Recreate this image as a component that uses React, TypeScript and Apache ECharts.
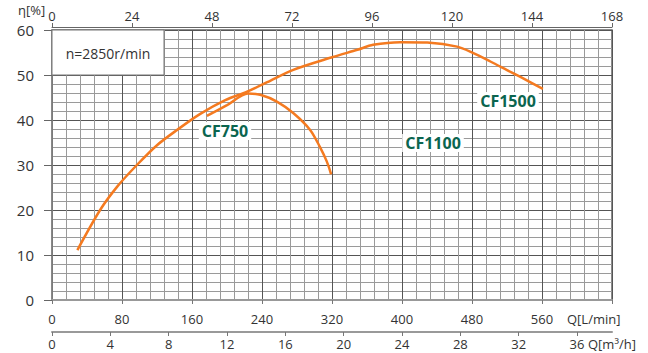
import React, { useEffect, useRef } from "react";
import * as echarts from "echarts";

// Flow (L/min) and efficiency (%)
const q1500 = [29, 55, 75, 97, 120, 143, 169, 198, 223, 246, 275, 321, 349, 367, 398, 429, 463, 481, 501, 520, 538, 561];
const eff1500 = [11.1, 20, 25.3, 30, 34.4, 37.8, 41.3, 44.4, 46.3, 48.4, 51.1, 54, 55.6, 56.7, 57.3, 57.2, 56.3, 54.9, 53, 51.1, 49.3, 46.9];
const q750 = [177, 200, 224, 238, 257, 276, 295, 306, 314, 319];
const eff750 = [40.9, 43.3, 45.9, 45.6, 44.1, 41.5, 37.8, 34.1, 30.8, 27.9];

const lminTicks = [0, 640, 80];
const m3hTicks = [0, 38.4, 4];
const gpmTicks = [0, 168, 24];
const etaTicks = [0, 60, 10];

const FONT = "Open Sans";

export default function App() {
  const ref = useRef<HTMLDivElement>(null);
  useEffect(() => {
    document.body.style.margin = "0";
    const chart = echarts.init(ref.current!, null, { renderer: "svg" });
    const labelStyle = { color: "#333", fontFamily: FONT, fontSize: 13 };
    chart.setOption({
      animation: false,
      backgroundColor: "#fff",
      grid: {
        left: 52, right: 36, top: 30, bottom: 53,
        show: true, borderColor: "#666", borderWidth: 1.5, containLabel: false,
      },
      xAxis: [
        {
          type: "value", position: "bottom", offset: 7,
          min: lminTicks[0], max: lminTicks[1], interval: lminTicks[2],
          axisLine: { show: true, lineStyle: { color: "#999", width: 2 } },
          axisTick: { show: true, length: 4, lineStyle: { color: "#777" } },
          axisLabel: { ...labelStyle, margin: 5, formatter: (v: number) => (v > 560 ? "" : String(v)) },
          splitLine: { show: true, lineStyle: { color: "#555", width: 1 } },
          minorTick: { show: false, splitNumber: 5 },
          minorSplitLine: { show: true, lineStyle: { color: "#9a9a9a", width: 1 } },
        },
        {
          type: "value", position: "bottom", offset: 32,
          min: m3hTicks[0], max: m3hTicks[1], interval: m3hTicks[2],
          axisLine: { show: true, lineStyle: { color: "#999", width: 2 } },
          axisTick: { show: true, length: 4, lineStyle: { color: "#777" } },
          axisLabel: { ...labelStyle, margin: 5, showMaxLabel: false, formatter: (v: number) => (v > 36 ? "" : String(v)) },
          splitLine: { show: false },
        },
        {
          type: "value", position: "top", offset: 3,
          min: gpmTicks[0], max: gpmTicks[1], interval: gpmTicks[2],
          axisLine: { show: true, lineStyle: { color: "#666", width: 1 } },
          axisTick: { show: true, length: 4, lineStyle: { color: "#666" } },
          axisLabel: { ...labelStyle, margin: 5 },
          splitLine: { show: false },
        },
      ],
      yAxis: [
        {
          type: "value", position: "left", offset: 4,
          min: etaTicks[0], max: etaTicks[1], interval: etaTicks[2],
          axisLine: { show: true, lineStyle: { color: "#888", width: 1.5 } },
          axisTick: { show: true, length: 8, lineStyle: { color: "#666" } },
          axisLabel: { color: "#333", fontFamily: FONT, fontSize: 15, margin: 14 },
          splitLine: { show: true, lineStyle: { color: "#555", width: 1 } },
          minorTick: { show: false, splitNumber: 5 },
          minorSplitLine: { show: true, lineStyle: { color: "#9a9a9a", width: 1 } },
        },
      ],
      series: [
        {
          name: "CF1500", type: "line", xAxisIndex: 0, yAxisIndex: 0,
          data: q1500.map((q, i) => [q, eff1500[i]]),
          smooth: 0.3, symbol: "none",
          lineStyle: { color: "#f47a20", width: 2.5 }, z: 5,
        },
        {
          name: "CF750", type: "line", xAxisIndex: 0, yAxisIndex: 0,
          data: q750.map((q, i) => [q, eff750[i]]),
          smooth: 0.3, symbol: "none",
          lineStyle: { color: "#f47a20", width: 2.5 }, z: 5,
        },
      ],
      graphic: [
        {
          type: "rect", z: 50,
          shape: { x: 52, y: 30, width: 112, height: 45 },
          style: { fill: "#fff", stroke: "#777", lineWidth: 1 },
        },
        {
          type: "text", z: 51, x: 108, y: 53,
          style: { text: "n=2850r/min", fill: "#333", font: `14px "${FONT}"`, textAlign: "center", textVerticalAlign: "middle" },
        },
        {
          type: "text", z: 51, x: 18, y: 10,
          style: { text: "η[%]", fill: "#333", font: `13px "${FONT}"`, textAlign: "left", textVerticalAlign: "middle" },
        },
        {
          type: "text", z: 51, x: 567, y: 319,
          style: { text: "Q[L/min]", fill: "#333", font: `13px "${FONT}"`, textAlign: "left", textVerticalAlign: "middle" },
        },
        {
          type: "text", z: 51, x: 588, y: 344,
          style: { text: "Q[m³/h]", fill: "#333", font: `13px "${FONT}"`, textAlign: "left", textVerticalAlign: "middle" },
        },
        {
          type: "text", z: 51, x: 225, y: 131,
          style: { text: "CF750", fill: "#0b654f", font: `bold 16px "${FONT}"`, textAlign: "center", textVerticalAlign: "middle", backgroundColor: "#fff", padding: [1, 3] },
        },
        {
          type: "text", z: 51, x: 433, y: 143,
          style: { text: "CF1100", fill: "#0b654f", font: `bold 16px "${FONT}"`, textAlign: "center", textVerticalAlign: "middle", backgroundColor: "#fff", padding: [1, 3] },
        },
        {
          type: "text", z: 51, x: 508, y: 101,
          style: { text: "CF1500", fill: "#0b654f", font: `bold 16px "${FONT}"`, textAlign: "center", textVerticalAlign: "middle", backgroundColor: "#fff", padding: [1, 3] },
        },
      ],
    });
    return () => chart.dispose();
  }, []);
  return <div ref={ref} style={{ width: 648, height: 353 }} />;
}
